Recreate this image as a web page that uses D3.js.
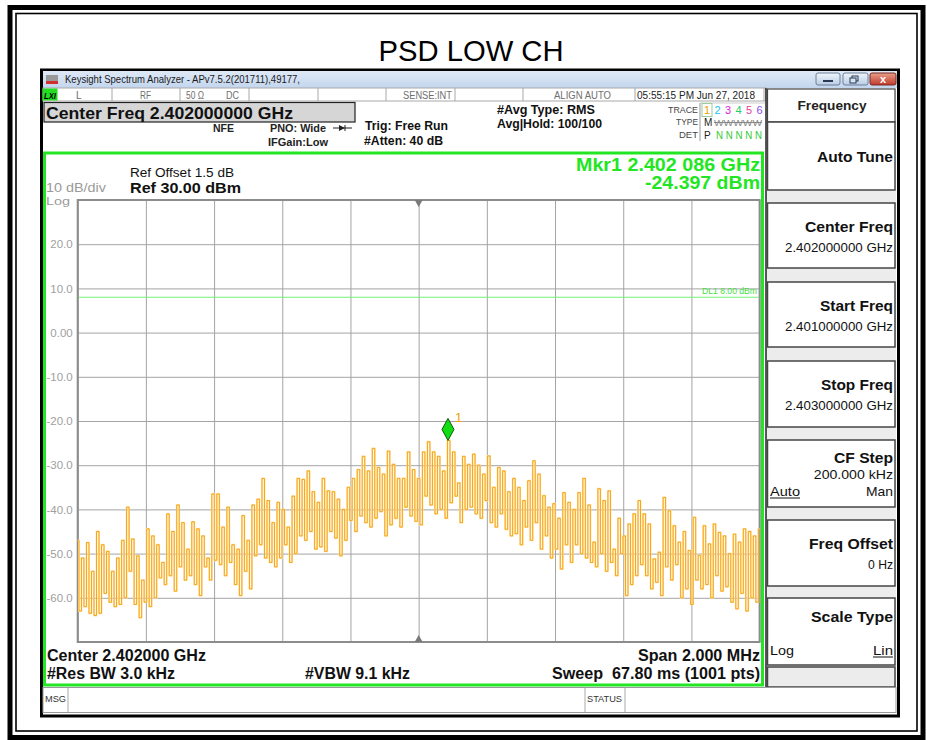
<!DOCTYPE html>
<html><head><meta charset="utf-8">
<script src="https://cdn.jsdelivr.net/npm/d3@7"></script>
<style>html,body{margin:0;padding:0;background:#fff}svg{display:block}text{font-family:"Liberation Sans",Arial,sans-serif}</style>
</head><body>
<script>
// ---------- data ----------
const startFreq = 2.401, stopFreq = 2.403; // GHz
const xTicks = [2.401,2.4012,2.4014,2.4016,2.4018,2.402,2.4022,2.4024,2.4026,2.4028,2.403];
const yTicks = [20,10,0,-10,-20,-30,-40,-50,-60];
const yTickLabels = ["20.0","10.0","0.00","-10.0","-20.0","-30.0","-40.0","-50.0","-60.0"];
const refLevel = 30, bottomLevel = -70;
const displayLine = 8.0;
const markerFreq = [2.402086];
const markerLevel = [-24.397];
const trace = [
-47,-63,-51,-62,-47.5,-63.5,-54,-64,-45,-63.5,
-48,-59,-49.5,-61,-54,-62,-51,-61.5,-47,-60,
-39.5,-54,-46.7,-61.5,-50.5,-64.5,-56,-61,-44.4,-62,
-46,-60,-48,-55.5,-52,-57,-41,-55,-45,-58.5,
-39,-53,-43,-56,-49,-55,-42.8,-57,-44.4,-59.5,
-46,-53,-51,-56,-36.5,-51.5,-36.5,-52.5,-44,-55,
-39.5,-52,-48,-57,-49,-59.5,-41.4,-54,-47,-58,
-39,-50.5,-37.7,-48,-33,-51,-38,-52,-43,-53,
-38.4,-51,-40,-48,-44,-52,-37,-50,-33,-46,
-33.2,-47,-31.3,-45,-36,-49,-38.4,-48.5,-33,-49.5,
-35.8,-45,-36,-46.5,-37.7,-50.5,-40,-47,-35,-42.5,
-33,-45,-31,-41.5,-28,-43,-31.3,-44,-26.2,-42,
-30.5,-40.5,-32,-46,-26.8,-43.5,-29.8,-42,-33,-44,
-33,-39.5,-27,-41.5,-31,-42.7,-33,-43.5,-27,-37,
-24.7,-39,-27,-41,-28,-40,-31.3,-42,-24.4,-38.5,
-27,-37,-34,-43,-28,-40,-29.8,-39.5,-27.5,-41,
-30,-42,-32,-38,-27.9,-43,-35,-44,-30.5,-41,
-31.3,-44.5,-36,-46,-33,-45.5,-35,-48,-38,-44,
-33.5,-47,-29,-43,-32,-49,-36.9,-46,-39.5,-51,
-38.7,-49,-42,-53.5,-36.2,-48,-38.4,-52,-40,-48,
-36.2,-50,-33,-51,-39,-52,-47.4,-53,-35.3,-50,
-38,-54,-35.8,-52,-49,-55,-42,-50,-46,-59.5,
-43.3,-57,-41,-55,-38,-52.5,-41,-55,-43.3,-58,
-51.2,-56.5,-49.7,-59.5,-37.3,-53,-40.3,-56,-43.7,-52.5,
-47.4,-60,-45,-58,-49.3,-61.5,-41.8,-56,-50.4,-58,
-43.7,-57,-47.8,-60,-43.3,-55,-45.2,-58.5,-46,-57.5,
-50,-61,-45.6,-62.5,-47.4,-59,-44.4,-63,-45,-60,
-46,-61,-44.4
];
const statusCells = [112,180,249,318,386,455,523,635,764];
const softkeys = [
  {y0:122,y1:190,title:"Auto Tune",tw:76,ty:162},
  {y0:203,y1:268,title:"Center Freq",tw:88,ty:232,val:"2.402000000 GHz",vy:252},
  {y0:282,y1:347,title:"Start Freq",tw:73,ty:311,val:"2.401000000 GHz",vy:331},
  {y0:361,y1:427,title:"Stop Freq",tw:72,ty:390,val:"2.403000000 GHz",vy:410},
  {y0:440,y1:507,title:"CF Step",tw:59,ty:463,val:"200.000 kHz",vy:479,left:"Auto",right:"Man",ly:496},
  {y0:520,y1:586,title:"Freq Offset",tw:84,ty:549,val:"0 Hz",vy:569},
  {y0:598,y1:665,title:"Scale Type",tw:82,ty:622,left:"Log",right:"Lin",ly:655,rightU:true},
  {y0:667,y1:687}
];

// ---------- drawing ----------
const W = 927, H = 740;
const svg = d3.select("body").append("svg").attr("width",W).attr("height",H);
const defs = svg.append("defs");
const tg = defs.append("linearGradient").attr("id","tb").attr("x1",0).attr("y1",0).attr("x2",0).attr("y2",1);
tg.append("stop").attr("offset","0").attr("stop-color","#dfe9f6");
tg.append("stop").attr("offset","1").attr("stop-color","#c3d6ee");
const cg = defs.append("linearGradient").attr("id","cl").attr("x1",0).attr("y1",0).attr("x2",0).attr("y2",1);
cg.append("stop").attr("offset","0").attr("stop-color","#e8a08c");
cg.append("stop").attr("offset","1").attr("stop-color","#c0392b");
const bg = defs.append("linearGradient").attr("id","bt").attr("x1",0).attr("y1",0).attr("x2",0).attr("y2",1);
bg.append("stop").attr("offset","0").attr("stop-color","#f0f5fb");
bg.append("stop").attr("offset","1").attr("stop-color","#b9cde6");

function T(x, y, s, o={}) {
  const size = o.size||12, anchor = o.anchor||"start";
  let ax = x, an = anchor;
  if (o.w && anchor==="end") { ax = x - o.w; an = "start"; }
  if (o.w && anchor==="middle") { ax = x - o.w/2; an = "start"; }
  const t = svg.append("text").attr("x",ax).attr("y",y).text(s)
    .attr("font-size",size).attr("font-weight",o.bold?"bold":"normal")
    .attr("fill",o.color||"#000").attr("text-anchor",an);
  if (o.italic) t.attr("font-style","italic");
  if (o.w) t.attr("textLength",o.w).attr("lengthAdjust","spacingAndGlyphs");
  if (o.u) {
    const bw = o.w || s.length*size*0.55;
    svg.append("line").attr("x1",ax).attr("x2",ax+bw).attr("y1",y+2).attr("y2",y+2)
      .attr("stroke",o.color||"#000").attr("stroke-width",1);
  }
  return t;
}
function R(x,y,w,h,fill,stroke,sw){
  return svg.append("rect").attr("x",x).attr("y",y).attr("width",w).attr("height",h)
   .attr("fill",fill||"none").attr("stroke",stroke||"none").attr("stroke-width",sw||1);
}
function L(x1,y1,x2,y2,c,sw){
  return svg.append("line").attr("x1",x1).attr("y1",y1).attr("x2",x2).attr("y2",y2).attr("stroke",c).attr("stroke-width",sw||1);
}

// page frame
R(10,7.5,913,730,"none","#000",5);
R(16,13.5,901,717.5,"none","#000",1.6);

// title
T(471,61,"PSD LOW CH",{size:29,anchor:"middle",w:185});

// window
R(41.5,70,857,646,"#fff","#000",3);
R(43,71,854,17,"url(#tb)");
// app icon
R(46,75,12,9,"#9a9a9a");
R(46,81,12,3,"#d03030");
T(65,83,"Keysight Spectrum Analyzer - APv7.5.2(201711),49177,",{size:10.5,w:235,color:"#1a1a1a"});
// window buttons
R(816,73,24,12,"url(#bt)","#6d7f98",1).attr("rx",2);
L(823,81,833,81,"#2a3a55",2);
R(843,73,25,12,"url(#bt)","#6d7f98",1).attr("rx",2);
R(852,76,6,5,"none","#2a3a55",1); R(850,78,6,5,"#d8e4f2","#2a3a55",1);
R(870,73,26,12,"url(#cl)","#7a2a20",1).attr("rx",2);
T(883,83,"x",{size:11,bold:true,anchor:"middle",color:"#fff"});

// status row
R(43,88,723,13,"#fff","#a8a8a8",1);
R(42.5,88.5,15,12,"#22dd22");
T(44,98.5,"LXI",{size:9,bold:true,italic:true,w:12});
statusCells.forEach(x=>L(x,88,x,101,"#a8a8a8",1));
const sc = "#6e6e6e";
T(76,99,"L",{size:10,color:sc});
T(140,99,"RF",{size:10,color:sc,w:11});
T(186,99,"50 Ω",{size:10,color:sc,w:18});
T(226,99,"DC",{size:10,color:sc,w:13});
T(452,99,"SENSE:INT",{size:10,color:sc,anchor:"end",w:49});
T(554,99,"ALIGN AUTO",{size:10,color:sc,w:57});
T(637,99,"05:55:15 PM Jun 27, 2018",{size:10,color:"#222",w:118});

// annotation area
R(44,102.5,311,19.5,"#d6d6d6","#222",1.2);
T(46,119,"Center Freq 2.402000000 GHz",{size:17,bold:true,w:247,color:"#111"});
T(213,132,"NFE",{size:11,bold:true,w:21,color:"#222"});
T(270,132,"PNO: Wide",{size:11,bold:true,w:56,color:"#222"});
L(333,128,352,128,"#222",1);
svg.append("path").attr("d","M339,125 L345,128 L339,131 Z").attr("fill","#222");
L(345,125,345,131,"#222",1);
T(268,146,"IFGain:Low",{size:11,bold:true,w:60,color:"#222"});
T(365,130,"Trig: Free Run",{size:12.5,bold:true,w:83,color:"#111"});
T(364,145,"#Atten: 40 dB",{size:12.5,bold:true,w:79,color:"#111"});
T(497,114,"#Avg Type: RMS",{size:12.5,bold:true,w:98,color:"#111"});
T(497,128,"Avg|Hold: 100/100",{size:12.5,bold:true,w:105,color:"#111"});
T(698,113,"TRACE",{size:9.5,anchor:"end",color:"#444",w:30});
T(698,125,"TYPE",{size:9.5,anchor:"end",color:"#444",w:22});
T(698,138,"DET",{size:9.5,anchor:"end",color:"#444",w:19});
L(700,103,700,141,"#999",1);
L(700,103,765,103,"#ccc",1);
R(702,103.5,10,13,"none","#9c9",1);
const tcol = ["#f0a000","#22c8ee","#e020e0","#22cc66","#e83c9c","#8a4cf0"];
tcol.forEach((c,i)=>T(704+i*10.5,114,String(i+1),{size:11,bold:false,color:c}));
T(704,126,"M",{size:10,color:"#222"});
T(714,126,"WWWWW",{size:9,color:"#888",w:48});
L(714,122.5,762,122.5,"#888",1);
T(704,139,"P",{size:10,color:"#222"});
T(716,139,"N N N N N",{size:10,color:"#33cc33",w:46});

// right panel
R(766,88,130,599,"#ececec");
L(766,88,766,687,"#222",1.5);
R(767.5,89,127.5,33,"#fff","#444",1.2);
T(832,110,"Frequency",{size:13,bold:true,anchor:"middle",w:69,color:"#222"});
softkeys.forEach(k=>{
  R(767.5,k.y0,127.5,k.y1-k.y0,k.title?"#fff":"#ececec","#444",1.5);
  if (k.title) T(893,k.ty,k.title,{size:15,bold:true,anchor:"end",w:k.tw,color:"#111"});
  if (k.val) T(893,k.vy,k.val,{size:13,anchor:"end",color:"#111",w:k.val.length>6?k.val.length*7.2:25});
  if (k.left) T(770,k.ly,k.left,{size:13,color:"#111",u:k.left==="Auto",w:k.left==="Auto"?30:24});
  if (k.right) T(893,k.ly,k.right,{size:13,anchor:"end",color:"#111",u:!!k.rightU,w:k.right==="Man"?27:20});
});

// MSG bar
R(43,687.5,853,25,"#fff","#999",1);
L(68,687.5,68,712,"#aaa",1);
L(585,687.5,585,712,"#aaa",1);
L(625,687.5,625,712,"#aaa",1);
T(45,702,"MSG",{size:8.5,color:"#333",w:21});
T(587,702,"STATUS",{size:8.5,color:"#333",w:35});

// graticule frame
R(44.5,153,718,532,"#fff","#22e622",3);

// scales
const x = d3.scaleLinear().domain([startFreq,stopFreq]).range([77.7,759.6]);
const y = d3.scaleLinear().domain([bottomLevel,refLevel]).range([642,200]);
const pw = 759.6-77.7, ph = 442;

// gridlines via axes
const gx = svg.append("g").attr("transform","translate(0,642)")
  .call(d3.axisBottom(x).tickValues(xTicks).tickSize(-ph).tickFormat(""));
gx.selectAll("line").attr("stroke","#a4a4a4").attr("stroke-width",1);
gx.select(".domain").remove();
const gy = svg.append("g").attr("transform","translate(77.7,0)")
  .call(d3.axisLeft(y).tickValues(yTicks).tickSizeInner(-pw).tickSizeOuter(0).tickPadding(5)
    .tickFormat((d,i)=>yTickLabels[i]));
gy.selectAll("line").attr("stroke","#a4a4a4").attr("stroke-width",1);
gy.select(".domain").remove();
gy.selectAll("text").attr("fill","#a0a0a0").attr("font-size",11.5).attr("font-family","Liberation Sans, Arial, sans-serif");
R(77.7,200,pw,ph,"none","#8c8c8c",2);

// center triangles
const cx = x((startFreq+stopFreq)/2);
svg.append("path").attr("d",`M${cx-4},200 L${cx+4},200 L${cx},207 Z`).attr("fill","#7a7a7a");
svg.append("path").attr("d",`M${cx-4},642 L${cx+4},642 L${cx},635 Z`).attr("fill","#7a7a7a");

// display line
L(78.7,y(displayLine),758.6,y(displayLine),"#74f074",1.2);
T(757,y(displayLine)-3,"DL1 8.00 dBm",{size:9,anchor:"end",color:"#44dd44",w:55});

// trace
const fAt = d3.scaleLinear().domain([0,trace.length-1]).range([startFreq,stopFreq]);
const line = d3.line().x((d,i)=>x(fAt(i))).y(d=>y(d)).curve(d3.curveStep);
svg.append("path").datum(trace).attr("d",line).attr("fill","none").attr("stroke","#ffe2b0").attr("stroke-width",1.8);
svg.append("path").datum(trace).attr("d",line).attr("fill","none").attr("stroke","#f5a000").attr("stroke-width",0.9);

// marker
const mx = x(markerFreq[0]), my = y(markerLevel[0]);
svg.append("path").attr("d",`M${mx},${my} L${mx+6},${my-11} L${mx},${my-22} L${mx-6},${my-11} Z`)
  .attr("fill","#11dd11").attr("stroke","#0a5a0a").attr("stroke-width",1);
T(mx+7,my-18,"1",{size:13,color:"#f0a000"});

// marker readout
T(760,171,"Mkr1 2.402 086 GHz",{size:18,bold:true,anchor:"end",w:184,color:"#22e622"});
T(760,189,"-24.397 dBm",{size:18,bold:true,anchor:"end",w:115,color:"#22e622"});

// scale annotations
T(130,177,"Ref Offset 1.5 dB",{size:12,w:104,color:"#111"});
T(130,193,"Ref 30.00 dBm",{size:15,bold:true,w:111,color:"#111"});
T(46,192,"10 dB/div",{size:12.5,color:"#9a9a9a",w:60});
T(46,204.5,"Log",{size:11.5,color:"#9a9a9a",w:24});

// bottom annotations
T(47,661,"Center 2.402000 GHz",{size:16,bold:true,w:159,color:"#111"});
T(760,661,"Span 2.000 MHz",{size:16,bold:true,anchor:"end",w:122,color:"#111"});
T(47,679,"#Res BW 3.0 kHz",{size:16,bold:true,w:128,color:"#111"});
T(305,679,"#VBW 9.1 kHz",{size:16,bold:true,w:105,color:"#111"});
T(760,679,"Sweep\u00a0\u00a067.80 ms (1001 pts)",{size:16,bold:true,anchor:"end",w:208,color:"#111"});
</script>
</body></html>
